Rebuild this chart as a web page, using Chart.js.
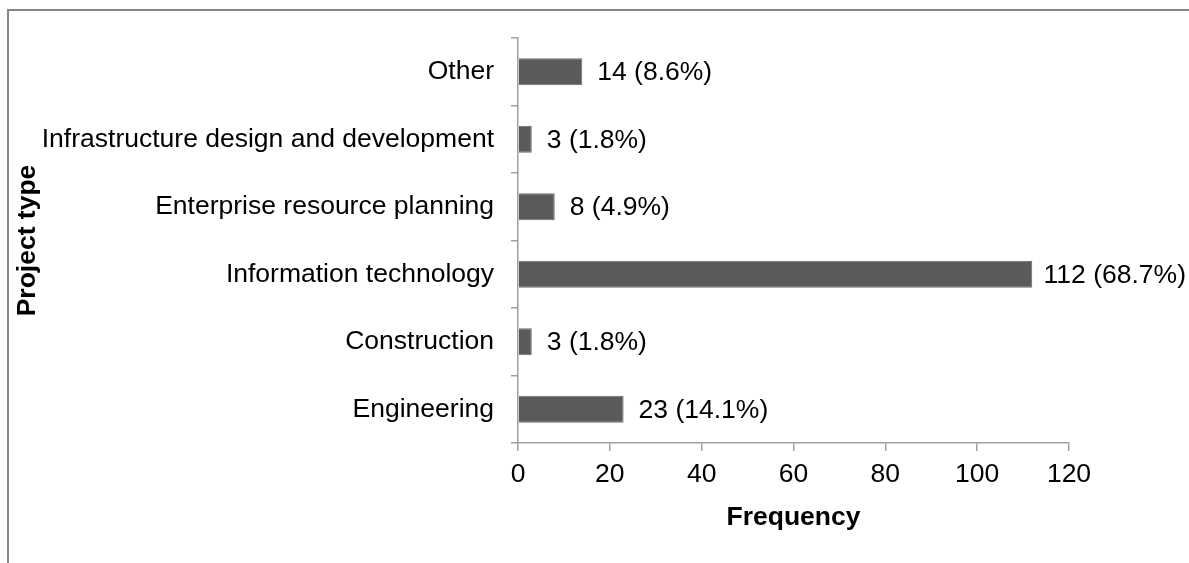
<!DOCTYPE html>
<html>
<head>
<meta charset="utf-8">
<script src="https://cdn.jsdelivr.net/npm/chart.js@4/dist/chart.umd.min.js"></script>
<style>
  html, body { margin: 0; padding: 0; background: #fff; }
  canvas { display: block; }
</style>
</head>
<body>
<canvas id="c" width="1189" height="563"></canvas>
<script>
const categories = ['Other', 'Infrastructure design and development', 'Enterprise resource planning', 'Information technology', 'Construction', 'Engineering'];
const counts = [14, 3, 8, 112, 3, 23];
const percents = ['8.6', '1.8', '4.9', '68.7', '1.8', '14.1'];
const xTicks = [0, 20, 40, 60, 80, 100, 120];

const FONT = "'Liberation Sans', Arial, sans-serif";
const FS = 26.5;
const AXIS = '#a0a0a0';

const framePlugin = {
  id: 'frame',
  beforeDraw(chart) {
    const ctx = chart.ctx;
    ctx.save();
    ctx.fillStyle = '#fff';
    ctx.fillRect(0, 0, chart.width, chart.height);
    ctx.strokeStyle = '#868686';
    ctx.lineWidth = 2;
    ctx.beginPath();
    ctx.moveTo(8, chart.height);
    ctx.lineTo(8, 10);
    ctx.lineTo(chart.width, 10);
    ctx.stroke();
    ctx.restore();
  }
};

const labelPlugin = {
  id: 'barLabels',
  afterDatasetsDraw(chart) {
    const ctx = chart.ctx;
    const meta = chart.getDatasetMeta(0);
    ctx.save();
    ctx.font = FS + 'px ' + FONT;
    ctx.fillStyle = '#000';
    ctx.textBaseline = 'middle';
    ctx.textAlign = 'left';
    meta.data.forEach((bar, i) => {
      const txt = counts[i] + ' (' + percents[i] + '%)';
      const w = ctx.measureText(txt).width;
      let x = bar.x + 15;
      x = Math.min(x, chart.width - w - 3);
      ctx.fillText(txt, x, bar.y + 1);
    });
    ctx.restore();
  }
};

new Chart(document.getElementById('c'), {
  type: 'bar',
  data: {
    labels: categories,
    datasets: [{
      data: counts,
      backgroundColor: '#5a5a5a',
      borderColor: '#6c6c6c',
      borderWidth: 1,
      barPercentage: 0.4,
      categoryPercentage: 1.0
    }]
  },
  options: {
    indexAxis: 'y',
    responsive: false,
    animation: false,
    devicePixelRatio: 1,
    layout: { padding: { left: 12, top: 38, right: 120, bottom: 29 } },
    plugins: { legend: { display: false }, tooltip: { enabled: false } },
    scales: {
      x: {
        min: 0, max: 120,
        afterBuildTicks(scale) { scale.ticks = xTicks.map(v => ({ value: v })); },
        afterFit(scale) { scale.height = 91; },
        border: { display: true, color: AXIS, width: 1.5 },
        grid: { drawOnChartArea: false, drawTicks: true, tickLength: 8, color: AXIS, lineWidth: 1.5 },
        ticks: { color: '#000', font: { family: FONT, size: FS }, padding: 8, maxRotation: 0 },
        title: { display: true, text: 'Frequency', color: '#000', font: { family: FONT, size: FS, weight: 'bold' }, padding: 0 }
      },
      y: {
        afterFit(scale) { scale.width = 518 - 12; },
        border: { display: true, color: AXIS, width: 1.5 },
        grid: { drawOnChartArea: false, drawTicks: true, tickLength: 7, color: AXIS, lineWidth: 1.5, offset: true },
        ticks: { color: '#000', font: { family: FONT, size: FS }, padding: 17, autoSkip: false },
        title: { display: true, text: 'Project type', color: '#000', font: { family: FONT, size: FS, weight: 'bold' }, padding: 0 }
      }
    }
  },
  plugins: [framePlugin, labelPlugin]
});
</script>
</body>
</html>
